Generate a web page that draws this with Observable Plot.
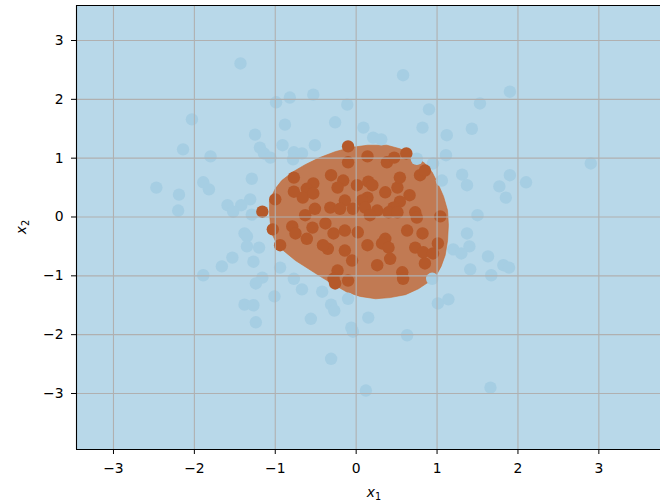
<!DOCTYPE html>
<html>
<head>
<meta charset="utf-8">
<script src="https://cdn.jsdelivr.net/npm/d3@7"></script>
<script src="https://cdn.jsdelivr.net/npm/@observablehq/plot@0.6"></script>
<style>
  html, body { margin: 0; padding: 0; background: #fff; }
  #chart svg { display: block; }
</style>
</head>
<body>
<div id="chart"></div>
<script>
// ---- data ----
const xTicks = [-3, -2, -1, 0, 1, 2, 3];
const yTicks = [-3, -2, -1, 0, 1, 2, 3];

// class 0 samples (light blue)
const class0Points = [
  [-2.03,1.66],[-2.14,1.15],[-1.80,1.03],[-2.47,0.50],[-2.19,0.38],[-2.20,0.11],[-1.89,0.59],[-1.82,0.47],
  [-1.89,-0.99],[-1.66,-0.84],[-1.43,2.61],[-0.99,1.95],[-0.82,2.03],[-0.53,2.08],[-0.88,1.57],[-1.25,1.40],
  [-1.19,1.18],[-1.14,1.08],[-1.06,1.01],[-0.91,1.22],[-0.77,1.10],[-0.67,1.08],[-0.78,0.98],[-0.51,1.22],
  [-1.29,0.65],[-1.31,0.30],[-1.42,0.20],[-1.59,0.20],[-1.52,0.09],[-1.29,0.04],[-1.38,-0.28],[-1.35,-0.33],
  [-1.35,-0.50],[-1.20,-0.52],[-1.53,-0.69],[-1.27,-0.76],[-0.94,-0.86],[-1.16,-1.03],[-1.24,-1.13],[-0.77,-1.05],
  [-0.67,-1.23],[-0.42,-1.27],[-1.01,-1.35],[-1.38,-1.49],[-1.27,-1.50],[-1.24,-1.79],[-0.56,-1.73],[0.58,2.41],
  [-0.11,1.91],[-0.26,1.61],[0.09,1.52],[0.21,1.35],[0.31,1.32],[0.90,1.83],[0.82,1.52],[1.12,1.39],
  [1.43,1.50],[1.11,1.05],[0.95,0.91],[1.31,0.72],[1.06,0.62],[1.37,0.54],[1.90,2.13],[1.53,1.93],
  [1.90,0.71],[1.77,0.52],[2.10,0.59],[1.85,0.33],[2.90,0.91],[1.50,0.03],[1.37,-0.28],[1.40,-0.50],
  [1.20,-0.55],[1.30,-0.62],[1.63,-0.67],[1.82,-0.82],[1.89,-0.86],[1.41,-0.89],[1.67,-0.99],[0.94,-1.05],
  [1.14,-1.40],[1.01,-1.47],[1.66,-2.90],[-0.10,-1.39],[-0.31,-1.49],[-0.27,-1.59],[0.15,-1.71],[-0.06,-1.88],
  [-0.04,-1.95],[0.63,-2.01],[-0.31,-2.41],[0.12,-2.95],[0.75,0.99]
];

// class 1 samples (brown)
const class1Points = [
  [-0.10,1.20],[0.14,1.03],[-0.10,0.93],[0.38,0.93],[0.47,1.01],[0.62,1.08],[0.79,0.71],[0.85,0.79],
  [-0.31,0.71],[-0.16,0.62],[0.15,0.60],[0.20,0.54],[0.01,0.54],[0.36,0.42],[0.51,0.50],[0.54,0.67],
  [0.66,0.37],[-0.53,0.57],[-0.61,0.48],[-0.23,0.50],[0.14,0.33],[-0.14,0.28],[-0.32,0.16],[-0.51,0.14],
  [0.54,0.26],[0.46,0.16],[-0.20,0.14],[-0.66,0.33],[0.26,0.11],[0.73,0.08],[1.04,0.01],[-1.16,0.09],
  [-1.00,0.30],[-0.77,0.67],[-0.77,0.43],[-0.53,0.40],[-1.03,-0.21],[-0.94,-0.48],[-0.79,-0.16],[-0.75,-0.28],
  [-0.61,-0.37],[-0.54,-0.18],[-0.28,-0.28],[-0.14,-0.23],[0.02,-0.26],[-0.35,-0.54],[-0.14,-0.57],[-0.05,-0.74],
  [0.14,-0.48],[0.26,-0.82],[0.36,-0.37],[0.32,-0.45],[0.40,-0.52],[0.42,-0.71],[0.63,-0.23],[0.82,-0.28],
  [0.73,-0.52],[0.83,-0.60],[0.95,-0.62],[1.01,-0.45],[0.85,-0.79],[0.57,-0.94],[0.58,-1.05],[-0.23,-0.91],
  [-0.28,-1.05],[-0.26,-1.13],[-0.10,-1.08],[0.07,0.28],[-0.04,0.14],[0.11,0.16],[0.40,0.08],[0.51,0.08],
  [0.75,-0.01],[-0.38,-0.11],[-0.41,-0.48],[-0.63,0.03],[0.17,0.03]
];

// decision-region outline for class 1
const boundary = [
  [-1.07,0.28],[-1.00,0.48],[-0.92,0.62],[-0.79,0.76],[-0.63,0.89],[-0.45,1.01],[-0.26,1.11],[-0.07,1.18],
  [0.14,1.22],[0.38,1.22],[0.54,1.16],[0.67,1.08],[0.75,0.99],[0.80,0.96],[0.85,0.91],[0.94,0.76],
  [1.01,0.57],[1.08,0.35],[1.13,0.11],[1.14,-0.14],[1.13,-0.40],[1.10,-0.65],[1.05,-0.84],[0.99,-0.99],
  [0.89,-1.11],[0.77,-1.22],[0.61,-1.32],[0.42,-1.37],[0.24,-1.39],[0.05,-1.35],[-0.11,-1.28],[-0.26,-1.16],
  [-0.42,-1.03],[-0.59,-0.88],[-0.75,-0.74],[-0.90,-0.57],[-0.99,-0.43],[-1.05,-0.26],[-1.07,0.03]
];

const xDomain = [-3.457, 3.762];
const yDomain = [-3.952, 3.595];

const toRow = ([x, y]) => ({x, y});
const fmt = d => (d < 0 ? "\u2212" + Math.abs(d) : String(d));

const plot = Plot.plot({
  width: 660,
  height: 503,
  marginLeft: 76,
  marginRight: 0,
  marginTop: 5,
  marginBottom: 54,
  style: {fontFamily: "DejaVu Sans", fontSize: "13.9px", color: "#000", background: "#fff"},
  x: {domain: xDomain, ticks: xTicks, tickSize: 5, tickPadding: 9, tickFormat: fmt, label: null},
  y: {domain: yDomain, ticks: yTicks, tickSize: 5, tickPadding: 8, tickFormat: fmt, label: null},
  marks: [
    Plot.frame({fill: "#b8d8e9", stroke: "none"}),
    Plot.line(boundary.map(toRow), {x: "x", y: "y", curve: "linear-closed", fill: "#c17a53", stroke: "#c86a30", strokeWidth: 0.6}),
    Plot.dot(class0Points.map(toRow), {x: "x", y: "y", r: 6.2, fill: "#a6cee3", stroke: "none"}),
    Plot.dot(class1Points.map(toRow), {x: "x", y: "y", r: 6.2, fill: "#b5592a", stroke: "none"}),
    Plot.gridX(xTicks, {stroke: "#b0b0b0", strokeOpacity: 1, strokeWidth: 1.1}),
    Plot.gridY(yTicks, {stroke: "#b0b0b0", strokeOpacity: 1, strokeWidth: 1.1}),
    Plot.ruleX([xDomain[0]], {stroke: "#000", strokeWidth: 1.1}),
    Plot.ruleY([yDomain[0], yDomain[1]], {stroke: "#000", strokeWidth: 1.1})
  ]
});

document.getElementById("chart").appendChild(plot);

// axis titles with math-style subscripts
const svg = d3.select(plot);
const xl = svg.append("text")
  .attr("x", 374).attr("y", 497)
  .attr("text-anchor", "middle")
  .attr("font-family", "DejaVu Sans").attr("font-size", 13.9).attr("fill", "#000");
xl.append("tspan").attr("font-style", "italic").text("x");
xl.append("tspan").attr("font-size", 9.7).attr("dy", 2.5).text("1");

const yl = svg.append("text")
  .attr("transform", "translate(26,227) rotate(-90)")
  .attr("text-anchor", "middle")
  .attr("font-family", "DejaVu Sans").attr("font-size", 13.9).attr("fill", "#000");
yl.append("tspan").attr("font-style", "italic").text("x");
yl.append("tspan").attr("font-size", 9.7).attr("dy", 2.5).text("2");
</script>
</body>
</html>
